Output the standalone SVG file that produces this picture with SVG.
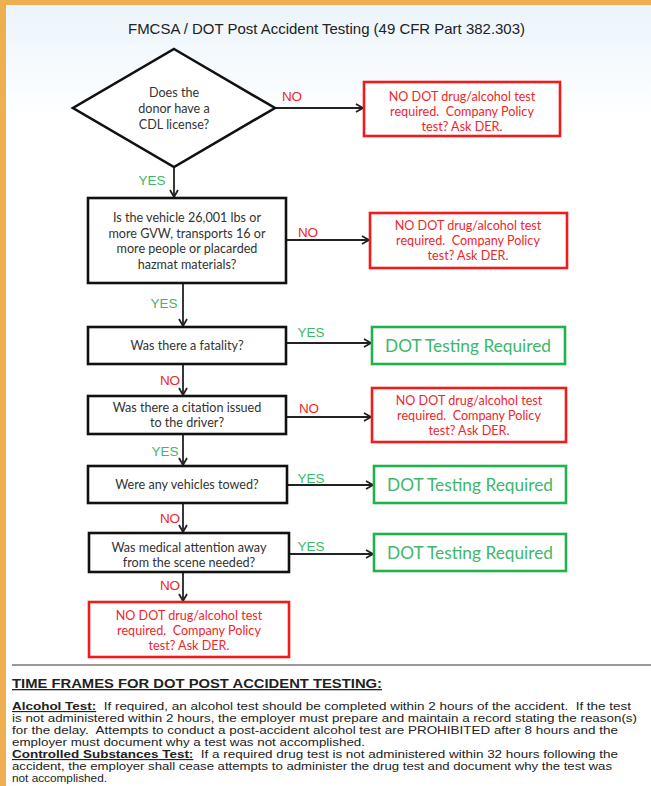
<svg xmlns="http://www.w3.org/2000/svg" width="651" height="786" viewBox="0 0 651 786">
<defs>
<linearGradient id="bg" x1="0" y1="0" x2="0" y2="1">
<stop offset="0" stop-color="#eaf4fb"/>
<stop offset="0.15" stop-color="#ffffff"/>
<stop offset="1" stop-color="#ffffff"/>
</linearGradient>
<marker id="arr" markerWidth="10" markerHeight="10" refX="8" refY="5" orient="auto" markerUnits="userSpaceOnUse">
<path d="M1,1 L8,5 L1,9" fill="none" stroke="#222" stroke-width="1.8"/>
</marker>
<style>
.q{fill:#fff;stroke:#111;stroke-width:2.6}
.r{fill:#fff;stroke:#f01c1c;stroke-width:2.6}
.g{fill:#fff;stroke:#22b24c;stroke-width:2.6}
.qt{font-family:Lato,"Open Sans",sans-serif;font-size:12.6px;fill:#333;text-anchor:middle}
.rt{font-family:Lato,"Open Sans",sans-serif;font-size:12.6px;fill:#f0262b;text-anchor:middle;white-space:pre}
.gt{font-family:Lato,"Open Sans",sans-serif;font-size:17.3px;fill:#3cb86a;text-anchor:middle}
.yes{font-family:"Liberation Sans",Arial,sans-serif;font-size:13.5px;fill:#3cb86a;text-anchor:middle}
.no{font-family:"Liberation Sans",Arial,sans-serif;font-size:13.5px;fill:#f0262b;text-anchor:middle}
.c{fill:none;stroke:#222;stroke-width:1.8;marker-end:url(#arr)}
.body{font-family:"Liberation Sans",Arial,sans-serif;font-size:11.5px;fill:#222;white-space:pre}
</style>
</defs>
<rect x="0" y="0" width="651" height="786" fill="url(#bg)"/>
<rect x="0" y="0" width="651" height="5" fill="#efae4f"/>
<rect x="0" y="0" width="6" height="786" fill="#efae4f"/>

<text x="128" y="34" font-family="Liberation Sans,Arial,sans-serif" font-size="14.5" fill="#222" textLength="397" lengthAdjust="spacingAndGlyphs">FMCSA / DOT Post Accident Testing (49 CFR Part 382.303)</text>

<g id="connectors">
<path class="c" d="M275,108 H363"/>
<path class="c" d="M174,167 V197"/>
<path class="c" d="M286,240 H369"/>
<path class="c" d="M183,283 V326"/>
<path class="c" d="M286,343 H371"/>
<path class="c" d="M183,364 V395"/>
<path class="c" d="M286,417 H371"/>
<path class="c" d="M183,434 V465"/>
<path class="c" d="M287,485 H373"/>
<path class="c" d="M183,503 V532"/>
<path class="c" d="M289,554 H373"/>
<path class="c" d="M183,572 V601"/>
<text class="no" x="292" y="101">NO</text>
<text class="yes" x="152" y="185">YES</text>
<text class="no" x="308" y="237">NO</text>
<text class="yes" x="164" y="308">YES</text>
<text class="yes" x="311" y="337">YES</text>
<text class="no" x="170" y="385">NO</text>
<text class="no" x="309" y="413">NO</text>
<text class="yes" x="165" y="456">YES</text>
<text class="yes" x="311" y="483">YES</text>
<text class="no" x="170" y="523">NO</text>
<text class="yes" x="311" y="551">YES</text>
<text class="no" x="170" y="590">NO</text>
</g>

<g id="q1">
<polygon class="q" points="174,49 275,108 174,167 73,108"/>
<text class="qt" x="174" y="97">Does the</text>
<text class="qt" x="174" y="113">donor have a</text>
<text class="qt" x="174" y="129">CDL license?</text>
</g>
<g id="r1">
<rect class="r" x="364" y="82" width="196" height="54"/>
<text class="rt" x="462" y="101">NO DOT drug/alcohol test</text>
<text class="rt" x="462" y="116" xml:space="preserve">required.  Company Policy</text>
<text class="rt" x="462" y="131">test? Ask DER.</text>
</g>
<g id="q2">
<rect class="q" x="88" y="198" width="198" height="85"/>
<text class="qt" x="187" y="222">Is the vehicle 26,001 lbs or</text>
<text class="qt" x="187" y="237.5">more GVW, transports 16 or</text>
<text class="qt" x="187" y="253">more people or placarded</text>
<text class="qt" x="187" y="268.5">hazmat materials?</text>
</g>
<g id="r2">
<rect class="r" x="370" y="213" width="197" height="55"/>
<text class="rt" x="468" y="230">NO DOT drug/alcohol test</text>
<text class="rt" x="468" y="245" xml:space="preserve">required.  Company Policy</text>
<text class="rt" x="468" y="260">test? Ask DER.</text>
</g>
<g id="q3">
<rect class="q" x="88" y="327" width="198" height="37"/>
<text class="qt" x="187" y="350">Was there a fatality?</text>
</g>
<g id="g1">
<rect class="g" x="372" y="327" width="193" height="37"/>
<text class="gt" x="468" y="352">DOT Testing Required</text>
</g>
<g id="q4">
<rect class="q" x="88" y="396" width="198" height="38"/>
<text class="qt" x="187" y="412">Was there a citation issued</text>
<text class="qt" x="187" y="427">to the driver?</text>
</g>
<g id="r3">
<rect class="r" x="372" y="388" width="194" height="54"/>
<text class="rt" x="469" y="405">NO DOT drug/alcohol test</text>
<text class="rt" x="469" y="420" xml:space="preserve">required.  Company Policy</text>
<text class="rt" x="469" y="435">test? Ask DER.</text>
</g>
<g id="q5">
<rect class="q" x="88" y="466" width="199" height="37"/>
<text class="qt" x="187" y="489">Were any vehicles towed?</text>
</g>
<g id="g2">
<rect class="g" x="374" y="466" width="192" height="37"/>
<text class="gt" x="470" y="491">DOT Testing Required</text>
</g>
<g id="q6">
<rect class="q" x="89" y="533" width="200" height="39"/>
<text class="qt" x="189" y="552">Was medical attention away</text>
<text class="qt" x="189" y="567">from the scene needed?</text>
</g>
<g id="g3">
<rect class="g" x="374" y="534" width="192" height="37"/>
<text class="gt" x="470" y="559">DOT Testing Required</text>
</g>
<g id="r4">
<rect class="r" x="89" y="602" width="200" height="55"/>
<text class="rt" x="189" y="620">NO DOT drug/alcohol test</text>
<text class="rt" x="189" y="635" xml:space="preserve">required.  Company Policy</text>
<text class="rt" x="189" y="650">test? Ask DER.</text>
</g>

<line x1="12" y1="665" x2="651" y2="665" stroke="#9a9a9a" stroke-width="2"/>
<text x="12" y="688" font-family="Liberation Sans,Arial,sans-serif" font-size="13" font-weight="bold" fill="#222" text-decoration="underline" textLength="370" lengthAdjust="spacingAndGlyphs">TIME FRAMES FOR DOT POST ACCIDENT TESTING:</text>
<text class="body" x="12" y="710" textLength="619" lengthAdjust="spacingAndGlyphs" xml:space="preserve"><tspan font-weight="bold" text-decoration="underline">Alcohol Test:</tspan>  If required, an alcohol test should be completed within 2 hours of the accident.  If the test</text>
<text class="body" x="12" y="722" textLength="625" lengthAdjust="spacingAndGlyphs">is not administered within 2 hours, the employer must prepare and maintain a record stating the reason(s)</text>
<text class="body" x="12" y="734" textLength="606" lengthAdjust="spacingAndGlyphs" xml:space="preserve">for the delay.  Attempts to conduct a post-accident alcohol test are PROHIBITED after 8 hours and the</text>
<text class="body" x="12" y="746" textLength="353" lengthAdjust="spacingAndGlyphs">employer must document why a test was not accomplished.</text>
<text class="body" x="12" y="758" textLength="606" lengthAdjust="spacingAndGlyphs" xml:space="preserve"><tspan font-weight="bold" text-decoration="underline">Controlled Substances Test:</tspan>  If a required drug test is not administered within 32 hours following the</text>
<text class="body" x="12" y="770" textLength="600" lengthAdjust="spacingAndGlyphs">accident, the employer shall cease attempts to administer the drug test and document why the test was</text>
<text class="body" x="12" y="782" textLength="95" lengthAdjust="spacingAndGlyphs">not accomplished.</text>
</svg>
